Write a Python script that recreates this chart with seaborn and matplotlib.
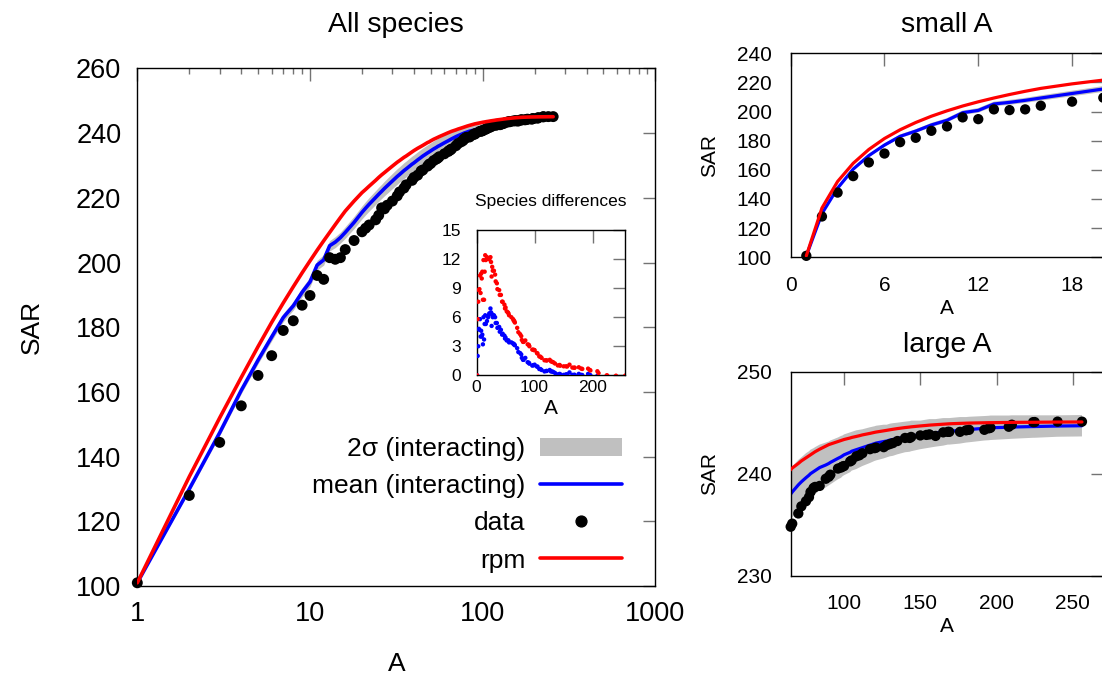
import numpy as np
import pandas as pd
import matplotlib
matplotlib.use("Agg")
import matplotlib.pyplot as plt
from matplotlib.lines import Line2D
from matplotlib.patches import Patch
from matplotlib.ticker import FixedLocator, LogLocator, NullFormatter
import seaborn as sns

# Areas A (all rectangle sizes on a 16x16 plot)
area = [
    1, 2, 3, 4, 5, 6, 7, 8, 9, 10,
    11, 12, 13, 14, 15, 16, 18, 20, 21, 22,
    24, 25, 26, 27, 28, 30, 32, 33, 35, 36,
    39, 40, 42, 44, 45, 48, 49, 50, 52, 54,
    55, 56, 60, 63, 64, 65, 66, 70, 72, 75,
    77, 78, 80, 81, 84, 88, 90, 91, 96, 98,
    99, 100, 104, 105, 108, 110, 112, 117, 120, 121,
    126, 128, 130, 132, 135, 140, 143, 144, 150, 154,
    156, 160, 165, 168, 169, 176, 180, 182, 192, 195,
    196, 208, 210, 224, 225, 240, 256,
]

# observed SAR (black dots)
sar_data = [
    101.0, 128.0, 144.4, 155.7, 165.1, 171.2, 179.0, 182.0, 186.8, 189.8,
    196.0, 194.8, 201.5, 201.0, 201.5, 204.0, 206.8, 209.5, 210.6, 211.6,
    213.2, 214.6, 216.9, 216.6, 217.7, 219.0, 220.6, 221.8, 223.0, 224.0,
    225.4, 226.3, 227.0, 228.3, 228.6, 229.8, 230.4, 230.6, 231.5, 232.0,
    232.3, 232.7, 233.6, 234.3, 234.6, 234.8, 235.1, 236.1, 236.8, 237.3,
    237.7, 238.2, 238.6, 238.7, 238.8, 239.5, 239.7, 239.9, 240.5, 240.6,
    240.7, 240.75, 241.2, 241.3, 241.7, 241.8, 242.0, 242.4, 242.5, 242.55,
    242.6, 242.8, 242.9, 243.0, 243.2, 243.5, 243.5, 243.6, 243.75, 243.8,
    243.85, 243.7, 244.05, 244.1, 244.1, 244.1, 244.25, 244.3, 244.3, 244.45,
    244.5, 244.6, 244.8, 245.05, 245.06, 245.1, 245.1,
]

# mean of the interacting model (blue)
sar_mean = [
    101.0, 130.0, 147.4, 160.5, 169.8, 177.0, 183.0, 186.6, 190.8, 194.0,
    199.2, 200.8, 205.2, 206.3, 207.7, 209.3, 212.4, 215.5, 216.8, 218.0,
    220.1, 221.1, 222.0, 222.9, 223.7, 225.2, 226.6, 227.2, 228.4, 228.9,
    230.4, 230.8, 231.7, 232.5, 232.9, 233.9, 234.2, 234.5, 235.1, 235.6,
    235.9, 236.1, 237.0, 237.6, 237.8, 238.0, 238.2, 238.9, 239.2, 239.6,
    239.85, 240.0, 240.2, 240.3, 240.6, 240.85, 241.0, 241.1, 241.5, 241.65,
    241.75, 241.85, 242.1, 242.2, 242.35, 242.45, 242.55, 242.8, 242.95, 243.0,
    243.15, 243.2, 243.3, 243.35, 243.45, 243.6, 243.65, 243.7, 243.8, 243.9,
    243.95, 244.0, 244.1, 244.15, 244.15, 244.25, 244.3, 244.33, 244.45, 244.48,
    244.5, 244.55, 244.57, 244.62, 244.62, 244.67, 244.7,
]

# random placement model (red)
sar_rpm = [
    101.0, 133.8, 152.0, 164.5, 174.0, 181.5, 187.5, 192.5, 196.8, 200.5,
    203.8, 206.7, 209.3, 211.7, 213.9, 215.9, 219.0, 221.6, 222.6, 223.6,
    225.4, 226.3, 227.1, 227.8, 228.5, 229.8, 231.0, 231.5, 232.5, 232.9,
    234.2, 234.6, 235.3, 235.9, 236.2, 237.1, 237.3, 237.6, 238.1, 238.5,
    238.7, 238.9, 239.6, 240.1, 240.25, 240.4, 240.55, 241.0, 241.25, 241.55,
    241.75, 241.85, 242.05, 242.15, 242.4, 242.7, 242.85, 242.9, 243.15, 243.25,
    243.3, 243.35, 243.5, 243.55, 243.65, 243.72, 243.8, 243.95, 244.05, 244.08,
    244.2, 244.25, 244.3, 244.35, 244.42, 244.52, 244.57, 244.59, 244.68, 244.73,
    244.76, 244.8, 244.85, 244.88, 244.89, 244.93, 244.95, 244.96, 244.99, 245.0,
    245.0, 245.02, 245.03, 245.04, 245.04, 245.06, 245.07,
]

# half width of the 2 sigma band around the mean
sigma2 = [
    0.0, 0.7, 0.9, 1.0, 1.1, 1.2, 1.3, 1.3, 1.4, 1.5,
    1.5, 1.6, 1.6, 1.7, 1.7, 1.8, 1.9, 2.0, 2.05, 2.1,
    2.15, 2.2, 2.2, 2.25, 2.3, 2.35, 2.4, 2.4, 2.45, 2.45,
    2.5, 2.5, 2.5, 2.5, 2.5, 2.5, 2.5, 2.5, 2.5, 2.5,
    2.5, 2.5, 2.5, 2.5, 2.5, 2.5, 2.5, 2.45, 2.4, 2.4,
    2.35, 2.35, 2.3, 2.3, 2.25, 2.2, 2.15, 2.15, 2.05, 2.05,
    2.0, 2.0, 1.95, 1.9, 1.9, 1.85, 1.8, 1.75, 1.7, 1.7,
    1.65, 1.6, 1.6, 1.6, 1.55, 1.5, 1.5, 1.5, 1.4, 1.4,
    1.4, 1.35, 1.35, 1.3, 1.3, 1.3, 1.25, 1.25, 1.2, 1.2,
    1.2, 1.15, 1.15, 1.1, 1.1, 1.05, 1.05,
]

df = pd.DataFrame({"A": area, "data": sar_data, "mean": sar_mean,
                   "rpm": sar_rpm, "s2": sigma2})
df["lo"] = df["mean"] - df["s2"]
df["hi"] = df["mean"] + df["s2"]
# species differences shown in the inset
df["d_rpm"] = df["rpm"] - df["data"]
df["d_mean"] = df["mean"] - df["data"]

GRAY, BLUE, RED = "#c0c0c0", "#0000ff", "#ff0000"

sns.set_theme(style="white")
plt.rcParams["font.family"] = ["Liberation Sans", "DejaVu Sans"]
plt.rcParams["axes.linewidth"] = 1.0
plt.rcParams["axes.edgecolor"] = "black"
plt.rcParams["text.color"] = "black"
plt.rcParams["axes.labelcolor"] = "black"
plt.rcParams["xtick.color"] = "black"
plt.rcParams["ytick.color"] = "black"

fig = plt.figure(figsize=(11.02, 6.76), dpi=100)
ax = fig.add_axes([0.1246, 0.1331, 0.4701, 0.7657])
ax_s = fig.add_axes([0.7175, 0.6194, 0.2837, 0.3018])
ax_l = fig.add_axes([0.7175, 0.1484, 0.2837, 0.3018])
ax_in = fig.add_axes([0.4324, 0.4448, 0.1350, 0.2149])


def draw(a, pts, lw, ms):
    a.fill_between(df["A"], df["lo"], df["hi"], color=GRAY, lw=0, zorder=1)
    sns.lineplot(data=df, x="A", y="mean", color=BLUE, lw=lw, ax=a,
                 errorbar=None, zorder=2)
    sns.scatterplot(data=pts, x="A", y="data", color="black", s=ms,
                    edgecolor="none", ax=a, clip_on=False, zorder=3)
    sns.lineplot(data=df, x="A", y="rpm", color=RED, lw=lw, ax=a,
                 errorbar=None, zorder=4)


def style(a, size, xpad, ypad):
    a.tick_params(which="both", direction="in", top=True, right=True,
                  labelsize=size, labelcolor="black")
    a.tick_params(axis="x", which="both", pad=xpad, color="0.45")
    a.tick_params(axis="y", which="both", pad=ypad, color="0.45")
    a.tick_params(which="major", length=9, width=1)
    a.tick_params(which="minor", length=4.5, width=1)
    for sp in a.spines.values():
        sp.set_color("black")
        sp.set_linewidth(1.0)


# main panel
draw(ax, df, 2.6, 62)
ax.set_xscale("log")
ax.set_xlim(1, 1000)
ax.set_ylim(100, 260)
ax.xaxis.set_major_locator(FixedLocator([1, 10, 100, 1000]))
ax.set_xticklabels(["1", "10", "100", "1000"])
ax.xaxis.set_minor_locator(LogLocator(base=10, subs=np.arange(2, 10)))
ax.xaxis.set_minor_formatter(NullFormatter())
ax.set_yticks(range(100, 261, 20))
style(ax, 19.5, 10.5, 11.5)
ax.set_title("All species", fontsize=20.5, pad=26)
ax.set_xlabel("A", fontsize=19)
ax.set_ylabel("SAR", fontsize=19)
ax.xaxis.set_label_coords(0.5, -0.127)
ax.yaxis.set_label_coords(-0.18, 0.5)

handles = [
    Patch(facecolor=GRAY, edgecolor="none"),
    Line2D([], [], color=BLUE, lw=2.6),
    Line2D([], [], ls="none", marker="o", color="black", ms=7.8),
    Line2D([], [], color=RED, lw=2.6),
]
labels = ["2σ (interacting)", "mean (interacting)", "data", "rpm"]
ax.legend(handles, labels, loc="lower right", bbox_to_anchor=(0.9356, 0.026),
          markerfirst=False, frameon=False, fontsize=19, handlelength=3.1,
          handletextpad=0.57, labelspacing=0.5, borderaxespad=0,
          borderpad=0, numpoints=1)

# small A panel
draw(ax_s, df[df["A"] <= 20], 2.3, 55)
ax_s.set_xlim(0, 20)
ax_s.set_ylim(100, 240)
ax_s.set_xticks([0, 6, 12, 18])
ax_s.set_yticks(range(100, 241, 20))
style(ax_s, 15, 13.5, 13.7)
ax_s.set_title("small A", fontsize=20.5, pad=15)
ax_s.set_xlabel("A", fontsize=15)
ax_s.set_ylabel("SAR", fontsize=15)
ax_s.xaxis.set_label_coords(0.5, -0.205)
ax_s.yaxis.set_label_coords(-0.228, 0.5)

# large A panel
draw(ax_l, df[df["A"] >= 65], 2.3, 55)
ax_l.set_xlim(65, 270)
ax_l.set_ylim(230, 250)
ax_l.set_xticks([100, 150, 200, 250])
ax_l.set_yticks([230, 240, 250])
style(ax_l, 15, 13.2, 13.7)
ax_l.set_title("large A", fontsize=20.5, pad=14.4)
ax_l.set_xlabel("A", fontsize=15)
ax_l.set_ylabel("SAR", fontsize=15)
ax_l.xaxis.set_label_coords(0.5, -0.201)
ax_l.yaxis.set_label_coords(-0.228, 0.5)

# inset: species differences
sns.scatterplot(data=df, x="A", y="d_mean", color=BLUE, s=10, edgecolor="none",
                ax=ax_in, zorder=3)
sns.scatterplot(data=df, x="A", y="d_rpm", color=RED, s=10, edgecolor="none",
                ax=ax_in, zorder=4)
ax_in.set_xlim(0, 256)
ax_in.set_ylim(0, 15)
ax_in.set_xticks([0, 100, 200])
ax_in.set_yticks(range(0, 16, 3))
style(ax_in, 12.5, 3.3, 11)
ax_in.set_title("Species differences", fontsize=12.5, pad=17)
ax_in.set_xlabel("A", fontsize=15)
ax_in.set_ylabel("")
ax_in.xaxis.set_label_coords(0.5, -0.16)

fig.savefig("out.png", dpi=100)
